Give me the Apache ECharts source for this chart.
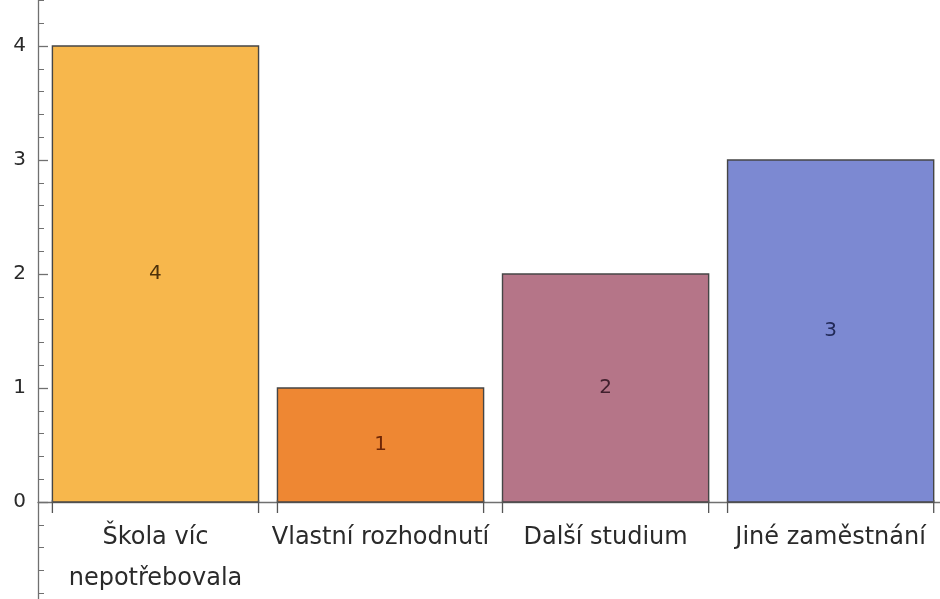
<!DOCTYPE html>
<html><head><meta charset="utf-8">
<script src="https://cdn.jsdelivr.net/npm/echarts@6/dist/echarts.min.js"></script>
<style>html,body{margin:0;padding:0;background:#fff;overflow:hidden;width:940px;height:599px;}
#c{position:absolute;left:0;top:-68px;width:940px;height:684px;}</style>
</head><body><div id="c"></div>
<script>
const categories = ["Škola víc\nnepotřebovala", "Vlastní rozhodnutí", "Další studium", "Jiné zaměstnání"];
const values = [4, 1, 2, 3];
const barColors = ["#F7B74C", "#EE8733", "#B57588", "#7C89D2"];
const labelColors = ["#4e320a", "#6e2606", "#42202e", "#222a58"];

const chart = echarts.init(document.getElementById('c'), null, {renderer: 'canvas'});
const FONT = '"DejaVu Sans", Verdana, sans-serif';
const HALF = 0.458;

chart.setOption({
  animation: false,
  backgroundColor: '#ffffff',
  grid: {left: 38, right: 0, top: 0, bottom: 0, containLabel: false},
  xAxis: {
    type: 'value', min: -0.522, max: 3.486,
    axisLine: {show: true, onZero: true, lineStyle: {color: '#707070', width: 1.3}},
    axisTick: {show: false}, axisLabel: {show: false}, splitLine: {show: false}
  },
  yAxis: {
    type: 'value', min: -1, max: 5, interval: 1,
    axisLine: {show: true, onZero: false, lineStyle: {color: '#707070', width: 1.3}},
    axisTick: {show: true, inside: true, length: 10, lineStyle: {color: '#707070', width: 1.3}},
    minorTick: {show: true, splitNumber: 5, length: 6, lineStyle: {color: '#707070', width: 1}},
    axisLabel: {show: true, margin: 12, fontFamily: FONT, fontSize: 20, color: '#2a2a2a',
      formatter: v => (v >= 0 && v <= 4) ? String(v) : ''},
    splitLine: {show: false}
  },
  series: [{
    type: 'custom',
    clip: false,
    data: values.map((v, i) => [i, v]),
    renderItem: function (params, api) {
      const i = api.value(0), v = api.value(1);
      const tl = api.coord([i - HALF, v]);
      const br = api.coord([i + HALF, 0]);
      const c = api.coord([i, v / 2]);
      const y0 = br[1];
      return {
        type: 'group',
        children: [
          {type: 'rect', shape: {x: tl[0], y: tl[1], width: br[0] - tl[0], height: br[1] - tl[1]},
           style: {fill: barColors[i], stroke: '#454545', lineWidth: 1.4}},
          {type: 'line', shape: {x1: tl[0], y1: y0 - 2, x2: tl[0], y2: y0 + 11}, style: {stroke: '#555', lineWidth: 1.3}},
          {type: 'line', shape: {x1: br[0], y1: y0 - 2, x2: br[0], y2: y0 + 11}, style: {stroke: '#555', lineWidth: 1.3}},
          {type: 'text', x: c[0], y: c[1],
           style: {text: String(values[i]), fill: labelColors[i], font: '20px ' + FONT, align: 'center', verticalAlign: 'middle'}},
          {type: 'text', x: c[0], y: y0 + 15,
           style: {text: categories[i], fill: '#2a2a2a', font: '24px ' + FONT, align: 'center', verticalAlign: 'top', lineHeight: 41}}
        ]
      };
    }
  }]
});
</script></body></html>
